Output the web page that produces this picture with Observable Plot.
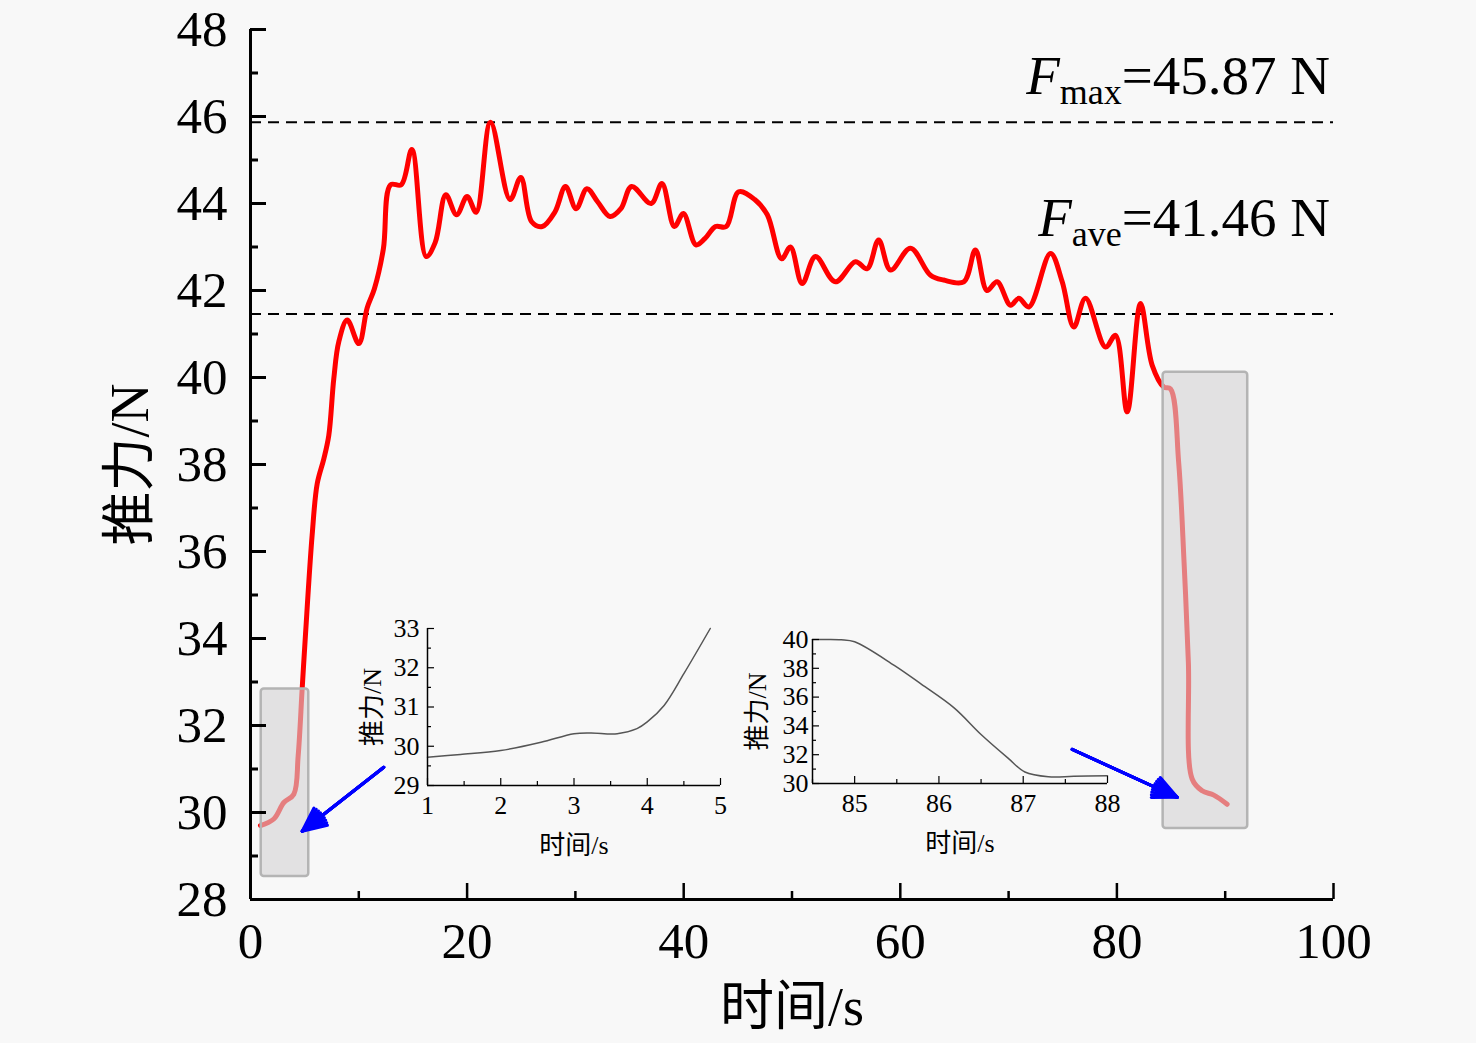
<!DOCTYPE html>
<html>
<head>
<meta charset="utf-8">
<script src="https://cdn.jsdelivr.net/npm/d3@7"></script>
<script src="https://cdn.jsdelivr.net/npm/@observablehq/plot@0.6"></script>
<style>
  html, body { margin: 0; padding: 0; background: #f8f8f8; overflow: hidden; }
  #wrap { position: relative; width: 1476px; height: 1043px; }
  #wrap svg { position: absolute; left: 0; top: 0; }
</style>
</head>
<body>
<div id="wrap"></div>
<script>
// ---------- data ----------
const time = [0.92, 2.15, 3.08, 4.0, 4.4, 4.77, 5.08, 5.69, 6.16, 6.77, 7.23, 7.69, 8.15, 8.93, 10.0, 10.77, 11.44, 12.27, 12.93, 13.92, 14.9, 16.22, 17.05, 18.04, 19.03, 20.0, 20.84, 22.16, 23.97, 24.96, 25.96, 26.94, 28.1, 29.09, 30.07, 31.06, 32.05, 33.2, 34.2, 35.19, 37.0, 37.99, 39.14, 39.97, 41.13, 41.95, 42.94, 43.93, 45.08, 46.56, 47.72, 49.04, 49.86, 50.94, 52.17, 54.0, 55.86, 56.94, 58.0, 59.1, 60.94, 62.79, 64.0, 65.86, 66.94, 68.0, 68.94, 70.18, 70.94, 71.87, 73.87, 74.95, 76.02, 77.1, 78.95, 79.87, 80.95, 82.18, 83.26, 84.33, 84.95, 85.7, 86.2, 86.6, 86.95, 87.87, 88.95, 90.18];
const thrust = [29.7, 29.85, 30.23, 30.42, 31.3, 32.84, 34.1, 36.37, 37.56, 38.13, 38.67, 39.97, 40.82, 41.32, 40.78, 41.6, 42.04, 42.96, 44.43, 44.43, 45.24, 42.78, 43.1, 44.2, 43.74, 44.16, 43.8, 45.87, 44.09, 44.6, 43.58, 43.47, 43.8, 44.39, 43.88, 44.34, 44.04, 43.7, 43.88, 44.39, 44.0, 44.46, 43.47, 43.77, 43.05, 43.19, 43.47, 43.47, 44.27, 44.09, 43.74, 42.73, 43.0, 42.16, 42.78, 42.2, 42.66, 42.5, 43.16, 42.47, 42.97, 42.35, 42.24, 42.2, 42.93, 42.0, 42.2, 41.66, 41.82, 41.62, 42.85, 42.2, 41.16, 41.82, 40.7, 40.97, 39.21, 41.7, 40.28, 39.78, 39.74, 38.06, 35.76, 33.45, 30.77, 30.5, 30.4, 30.19];

const insetTime1 = [1, 1.45, 2.0, 2.55, 3.0, 3.23, 3.59, 3.86, 4.0, 4.23, 4.5, 4.86];
const insetThrust1 = [29.72, 29.79, 29.89, 30.1, 30.32, 30.34, 30.32, 30.45, 30.62, 31.04, 31.85, 33.0];
const insetTime2 = [84.5, 84.65, 84.84, 85.0, 85.47, 85.79, 86.18, 86.5, 86.82, 87.02, 87.3, 87.6, 88.0];
const insetThrust2 = [40.0, 40.0, 39.98, 39.84, 38.2, 36.9, 35.25, 33.4, 31.76, 30.8, 30.47, 30.5, 30.54];

const fMax = 45.87;
const fAve = 41.46;

const xTicks = [0, 20, 40, 60, 80, 100];
const xMinorTicks = [10, 30, 50, 70, 90];
const yTicks = [28, 30, 32, 34, 36, 38, 40, 42, 44, 46, 48];
const yMinorTicks = [29, 31, 33, 35, 37, 39, 41, 43, 45, 47];

const inset1XTicks = [1, 2, 3, 4, 5];
const inset1XMinor = [1.5, 2.5, 3.5, 4.5];
const inset1YTicks = [29, 30, 31, 32, 33];
const inset1YMinor = [29.5, 30.5, 31.5, 32.5];
const inset2XTicks = [85, 86, 87, 88];
const inset2XMinor = [84.5, 85.5, 86.5, 87.5];
const inset2YTicks = [30, 32, 34, 36, 38, 40];
const inset2YMinor = [31, 33, 35, 37, 39];

// zoom boxes and arrows
const boxX1 = [0.99, 84.27];
const boxX2 = [5.38, 92.08];
const boxY1 = [28.53, 29.63];
const boxY2 = [32.84, 40.12];
const arrowX1 = [12.31, 75.87];
const arrowY1 = [31.04, 31.45];
const arrowX2 = [4.77, 85.57];
const arrowY2 = [29.57, 30.35];

// ---------- build ----------
const FONT = "'Liberation Serif', 'Noto Sans CJK SC', serif";
const W = 1476, H = 1043;
const series = time.map((t, i) => ({t, f: thrust[i]}));
const boxes = boxX1.map((d, i) => ({x1: boxX1[i], x2: boxX2[i], y1: boxY1[i], y2: boxY2[i]}));
const arrows = arrowX1.map((d, i) => ({x1: arrowX1[i], y1: arrowY1[i], x2: arrowX2[i], y2: arrowY2[i]}));

const M = {top: 29, right: 143, bottom: 144, left: 250};
const pw = W - M.left - M.right, ph = H - M.top - M.bottom;

const arrowMarks = [50, 38, 26, 14, 4].map(a =>
  Plot.arrow(arrows, {x1: "x1", y1: "y1", x2: "x2", y2: "y2", stroke: "#0000ff", strokeWidth: 3, headLength: 13, headAngle: a})
);

const main = Plot.plot({
  width: W, height: H,
  marginTop: M.top, marginRight: M.right, marginBottom: M.bottom, marginLeft: M.left,
  style: {background: "transparent", fontFamily: FONT, overflow: "visible"},
  x: {domain: [0, 100], axis: null},
  y: {domain: [28, 48], axis: null},
  marks: [
    Plot.ruleY([fMax, fAve], {x1: 0, x2: 100, stroke: "#000", strokeWidth: 2, strokeDasharray: "11,7"}),
    Plot.line(series, {x: "t", y: "f", stroke: "#ff0000", strokeWidth: 5, curve: "catmull-rom", strokeLinejoin: "round"}),
    Plot.rect(boxes, {x1: "x1", x2: "x2", y1: "y1", y2: "y2", fill: "#d3d2d4", fillOpacity: 0.6, stroke: "#b4b4b4", strokeWidth: 2.5, rx: 3}),
    ...arrowMarks,
    Plot.ruleY([28], {stroke: "#000", strokeWidth: 3}),
    Plot.ruleX([0], {stroke: "#000", strokeWidth: 3}),
    Plot.tickX(xTicks, {stroke: "#000", strokeWidth: 2.5, insetTop: ph - 16}),
    Plot.tickX(xMinorTicks, {stroke: "#000", strokeWidth: 2.5, insetTop: ph - 8}),
    Plot.tickY(yTicks, {stroke: "#000", strokeWidth: 3, insetRight: pw - 16}),
    Plot.tickY(yMinorTicks, {stroke: "#000", strokeWidth: 3, insetRight: pw - 8}),
    Plot.axisX(xTicks, {tickSize: 0, tickPadding: 22, fontSize: 51, fill: "#000", label: null, tickFormat: d => String(d)}),
    Plot.axisY(yTicks, {tickSize: 0, tickPadding: 23, fontSize: 51, fill: "#000", label: null, tickFormat: d => String(d)}),
    Plot.text(["时间/s"], {frameAnchor: "bottom", dy: 125, lineAnchor: "bottom", textAnchor: "middle", fontSize: 54, fill: "#000"}),
    Plot.text(["推力/N"], {frameAnchor: "left", dx: -120, rotate: -90, textAnchor: "middle", lineAnchor: "middle", fontSize: 54, fill: "#000"})
  ]
});

function inset(opts) {
  const {left, right, top, bottom, xd, yd, tx, txm, ty, tym, xs, ys, ypad, titleDx} = opts;
  const iw = W - left - right, ih = H - top - bottom;
  const data = xs.map((t, i) => ({t, f: ys[i]}));
  return Plot.plot({
    width: W, height: H,
    marginTop: top, marginRight: right, marginBottom: bottom, marginLeft: left,
    style: {background: "transparent", fontFamily: FONT, overflow: "visible"},
    x: {domain: xd, axis: null},
    y: {domain: yd, axis: null},
    marks: [
      Plot.line(data, {x: "t", y: "f", stroke: "#555", strokeWidth: 1.5, curve: "catmull-rom"}),
      Plot.ruleY([yd[0]], {stroke: "#000", strokeWidth: 1.5}),
      Plot.ruleX([xd[0]], {stroke: "#000", strokeWidth: 1.5}),
      Plot.tickX(tx, {stroke: "#000", strokeWidth: 1.2, insetTop: ih - 7}),
      Plot.tickX(txm, {stroke: "#000", strokeWidth: 1.2, insetTop: ih - 4}),
      Plot.tickY(ty, {stroke: "#000", strokeWidth: 1.2, insetRight: iw - 7}),
      Plot.tickY(tym, {stroke: "#000", strokeWidth: 1.2, insetRight: iw - 4}),
      Plot.axisX(tx, {tickSize: 0, tickPadding: 10, fontSize: 26, fill: "#000", label: null, tickFormat: d => String(d)}),
      Plot.axisY(ty, {tickSize: 0, tickPadding: ypad, fontSize: 26, fill: "#000", label: null, tickFormat: d => String(d)}),
      Plot.text(["时间/s"], {frameAnchor: "bottom", dy: 68, lineAnchor: "bottom", textAnchor: "middle", fontSize: 26, fill: "#000"}),
      Plot.text(["推力/N"], {frameAnchor: "left", dx: titleDx, rotate: -90, textAnchor: "middle", lineAnchor: "middle", fontSize: 26, fill: "#000"})
    ]
  });
}

const in1 = inset({left: 427, right: 756, top: 628, bottom: 258, xd: [1, 5], yd: [29, 33],
  tx: inset1XTicks, txm: inset1XMinor, ty: inset1YTicks, tym: inset1YMinor,
  xs: insetTime1, ys: insetThrust1, ypad: 8, titleDx: -55});
const in2 = inset({left: 812, right: 369, top: 639, bottom: 260, xd: [84.5, 88], yd: [30, 40],
  tx: inset2XTicks, txm: inset2XMinor, ty: inset2YTicks, tym: inset2YMinor,
  xs: insetTime2, ys: insetThrust2, ypad: 4, titleDx: -55});

const wrap = document.getElementById("wrap");
wrap.appendChild(main);
wrap.appendChild(in1);
wrap.appendChild(in2);

// annotations with subscripts, positioned through the main scales
const sx = main.scale("x"), sy = main.scale("y");
const svg = d3.select(main);
function annotate(value, sub, label, lift) {
  const t = svg.append("text")
    .attr("x", sx.apply(100) - 3)
    .attr("y", sy.apply(value) - lift)
    .attr("text-anchor", "end")
    .attr("font-family", FONT)
    .attr("font-size", 55)
    .attr("fill", "#000");
  t.append("tspan").attr("font-style", "italic").text("F");
  t.append("tspan").attr("font-size", 36).attr("dy", 10).text(sub);
  t.append("tspan").attr("dy", -10).text("=" + label + " N");
}
annotate(fMax, "max", fMax.toFixed(2), 28);
annotate(fAve, "ave", fAve.toFixed(2), 77);
</script>
</body>
</html>
